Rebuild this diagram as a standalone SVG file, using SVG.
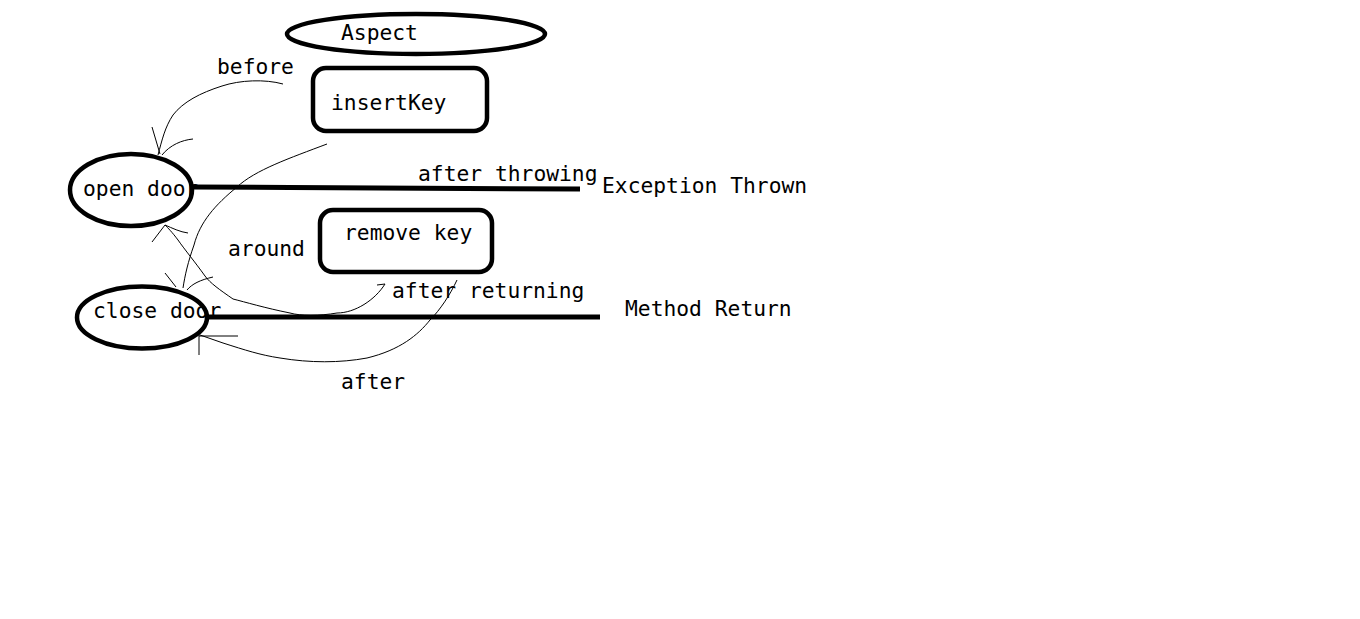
<svg xmlns="http://www.w3.org/2000/svg" width="1360" height="619" viewBox="0 0 1360 619">
<style>
text{font-family:"DejaVu Sans Mono","Liberation Mono",monospace;font-size:21.3px;fill:#000}
.node{fill:none;stroke:#000;stroke-width:4.5}
.thick{fill:none;stroke:#000;stroke-width:5}
.thin{fill:none;stroke:#000;stroke-width:1}
</style>
<rect width="1360" height="619" fill="#fff"/>
<g id="aspect">
<ellipse class="node" cx="416" cy="34" rx="129" ry="20"/>
<text x="341" y="40">Aspect</text>
</g>
<g id="insertKey">
<rect class="node" x="313" y="68" width="174" height="63" rx="13"/>
<text x="331" y="110">insertKey</text>
</g>
<g id="removeKey">
<rect class="node" x="320" y="210" width="172" height="62" rx="13"/>
<text x="344" y="240">remove key</text>
</g>
<g id="openDoor">
<ellipse class="node" cx="131" cy="190" rx="61" ry="36"/>
<text x="83" y="196">open door</text>
</g>
<g id="closeDoor">
<ellipse class="node" cx="142" cy="317.5" rx="65" ry="31"/>
<text x="93" y="318">close door</text>
</g>
<g id="exceptionThrown">
<text x="602" y="193">Exception Thrown</text>
</g>
<g id="methodReturn">
<text x="625" y="316">Method Return</text>
</g>
<g id="connectors">
<polyline class="thick" points="192,187 290,187.5 580,189"/>
<line class="thick" x1="207" y1="317" x2="600" y2="317"/>
<text x="418" y="181">after throwing</text>
<text x="392" y="298">after returning</text>
<path class="thin" d="M283,84 C265,79 240,80 222,86 C200,93 183,102 173,115 C165,127 162,140 158,155"/>
<path class="thin" d="M152,127 L160,154 M193,139 C182,140 170,145 162,155"/>
<text x="217" y="74">before</text>
<path class="thin" d="M327,144 C290,158 255,170 237,187 C215,205 200,222 194,245 C188,262 185,275 183,288"/>
<path class="thin" d="M165,273 L176,287 M213,277 C200,280 192,284 187,290"/>
<path class="thin" d="M385,284 L377,285 M385,284 C375,300 355,313 337,313 C320,316 300,316 290,313 C265,308 245,302 233,299 C220,290 210,283 205,276 C195,262 185,250 178,240 C172,232 168,228 165,225"/>
<path class="thin" d="M165,225 L152,242 M165,225 C172,228 180,232 188,233"/>
<text x="228" y="256">around</text>
<path class="thin" d="M457,280 C450,295 440,310 430,320 C418,335 400,350 367,358 C340,363 310,363 280,358 C260,355 245,350 223,343 L200,335"/>
<path class="thin" d="M199,335 L199,355 M199,336 L238,336"/>
<text x="341" y="389">after</text>
</g>
</svg>
